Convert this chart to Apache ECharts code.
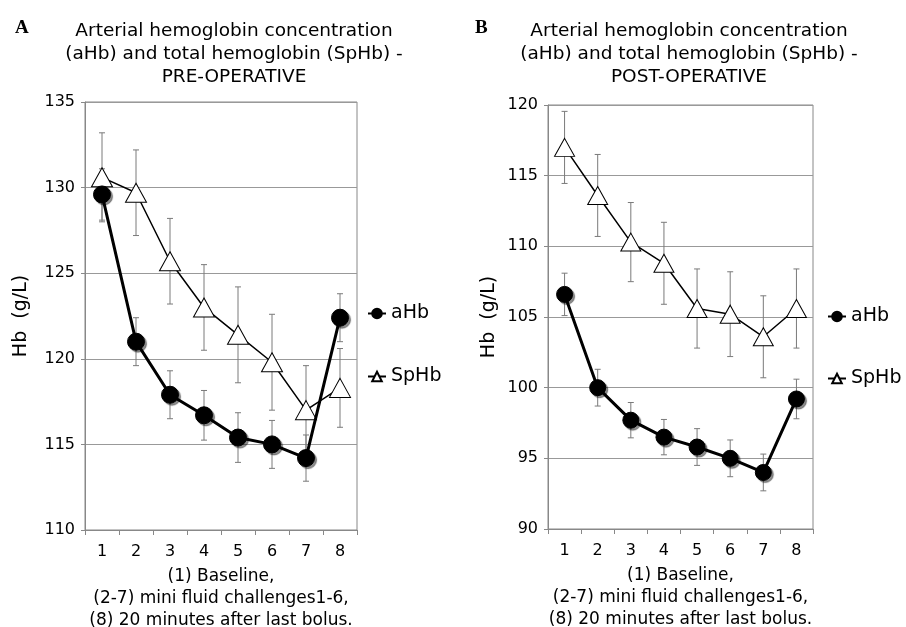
<!DOCTYPE html>
<html>
<head>
<meta charset="utf-8">
<script src="https://cdn.jsdelivr.net/npm/echarts@6/dist/echarts.min.js"></script>
<style>html,body{margin:0;padding:0;background:#fff}#c{width:906px;height:627px}</style>
</head>
<body>
<div id="c"></div>
<script>
const categories = ['1','2','3','4','5','6','7','8'];
const preAHb = [129.6,121.0,117.9,116.7,115.4,115.0,114.2,122.4];
const preAHbErr = [1.5,1.4,1.4,1.45,1.45,1.4,1.35,1.4];
const preSpHb = [130.6,129.7,125.7,123.0,121.4,119.8,117.0,118.3];
const preSpHbErr = [2.6,2.5,2.5,2.5,2.8,2.8,2.6,2.3];
const postAHb = [106.6,100.0,97.7,96.5,95.8,95.0,94.0,99.2];
const postAHbErr = [1.5,1.3,1.25,1.25,1.3,1.3,1.3,1.4];
const postSpHb = [117.0,113.6,110.3,108.8,105.6,105.2,103.6,105.6];
const postSpHbErr = [2.55,2.9,2.8,2.9,2.8,3.0,2.9,2.8];
const titleA = 'Arterial hemoglobin concentration\n(aHb) and total hemoglobin (SpHb) -\nPRE-OPERATIVE';
const titleB = 'Arterial hemoglobin concentration\n(aHb) and total hemoglobin (SpHb) -\nPOST-OPERATIVE';
const xName = '(1) Baseline,\n(2-7) mini fluid challenges1-6,\n(8) 20 minutes after last bolus.';
const yName = 'Hb  (g/L)';

const FONT = '"DejaVu Sans", "Liberation Sans", Arial, sans-serif';
const chart = echarts.init(document.getElementById('c'), null, {renderer: 'canvas'});

function errData(vals, errs) {
  return vals.map((v, i) => [i, v - errs[i], v + errs[i]]);
}
function errSeries(vals, errs, idx) {
  return {
    type: 'custom', xAxisIndex: idx, yAxisIndex: idx, z: 1, silent: true,
    data: errData(vals, errs),
    renderItem: function (params, api) {
      const x = api.value(0);
      const lo = api.coord([x, api.value(1)]);
      const hi = api.coord([x, api.value(2)]);
      const w = 3;
      const st = {stroke: '#7a7a7a', lineWidth: 1};
      return {type: 'group', children: [
        {type: 'line', shape: {x1: lo[0], y1: lo[1], x2: hi[0], y2: hi[1]}, style: st},
        {type: 'line', shape: {x1: lo[0]-w, y1: lo[1], x2: lo[0]+w, y2: lo[1]}, style: st},
        {type: 'line', shape: {x1: hi[0]-w, y1: hi[1], x2: hi[0]+w, y2: hi[1]}, style: st}
      ]};
    }
  };
}
function aSeries(vals, idx, size) {
  return {
    name: 'aHb', type: 'line', xAxisIndex: idx, yAxisIndex: idx, data: vals, z: 4,
    symbol: 'circle', symbolSize: size,
    lineStyle: {color: '#000', width: 3},
    itemStyle: {color: '#000', borderColor: '#000', borderWidth: 1,
      shadowColor: 'rgba(0,0,0,0.45)', shadowOffsetX: 2, shadowOffsetY: 2, shadowBlur: 1},
    emphasis: {disabled: true}
  };
}
function sSeries(vals, idx, size) {
  return {
    name: 'SpHb', type: 'line', xAxisIndex: idx, yAxisIndex: idx, data: vals, z: 3,
    symbol: 'triangle', symbolSize: size,
    lineStyle: {color: '#000', width: 1.5},
    itemStyle: {color: '#fff', borderColor: '#000', borderWidth: 1},
    emphasis: {disabled: true}
  };
}
function xAxis(idx) {
  return {
    type: 'category', gridIndex: idx, data: categories, boundaryGap: true,
    axisLine: {lineStyle: {color: '#888'}},
    axisTick: {show: true, length: 5, lineStyle: {color: '#888'}},
    axisLabel: {color: '#000', fontSize: 16, fontFamily: FONT, margin: 14},
    name: xName, nameLocation: 'middle', nameGap: 36,
    nameTextStyle: {color: '#000', fontSize: 17, fontFamily: FONT, lineHeight: 22, verticalAlign: 'top'}
  };
}
function yAxis(idx, min, max, gap) {
  return {
    type: 'value', gridIndex: idx, min: min, max: max, interval: 5,
    axisLine: {show: true, lineStyle: {color: '#888'}},
    axisTick: {show: true, length: 4, lineStyle: {color: '#888'}},
    splitLine: {show: true, lineStyle: {color: '#999', width: 1}},
    axisLabel: {color: '#000', fontSize: 16, fontFamily: FONT, margin: 10},
    name: yName, nameLocation: 'middle', nameGap: gap, nameRotate: 90,
    nameTextStyle: {color: '#000', fontSize: 19, fontFamily: FONT}
  };
}
const legendText = {color: '#000', fontSize: 19, fontFamily: FONT};

chart.setOption({
  animation: false,
  backgroundColor: '#fff',
  title: [
    {text: 'A', left: 10, top: 14, textStyle: {fontFamily: '"Liberation Serif", serif', fontWeight: 'bold', fontSize: 19, color: '#000'}},
    {text: 'B', left: 470, top: 14, textStyle: {fontFamily: '"Liberation Serif", serif', fontWeight: 'bold', fontSize: 19, color: '#000'}},
    {text: titleA, left: 229, top: 15, textAlign: 'center', textStyle: {fontFamily: FONT, fontWeight: 'normal', fontSize: 18.5, lineHeight: 23, color: '#000'}},
    {text: titleB, left: 684, top: 15, textAlign: 'center', textStyle: {fontFamily: FONT, fontWeight: 'normal', fontSize: 18.5, lineHeight: 23, color: '#000'}}
  ],
  legend: [
    {data: [{name: 'aHb'}, {name: 'SpHb'}], left: 362, top: 299, orient: 'vertical', itemGap: 44,
      itemWidth: 18, itemHeight: 12, textStyle: legendText, selectedMode: false},
    {data: [{name: 'aHb'}, {name: 'SpHb'}], left: 822, top: 302, orient: 'vertical', itemGap: 43,
      itemWidth: 18, itemHeight: 12, textStyle: legendText, selectedMode: false}
  ],
  grid: [
    {left: 85, top: 102, width: 272, height: 428, show: true, borderColor: '#888', borderWidth: 1, outerBoundsMode: 'none', containLabel: false},
    {left: 548, top: 105, width: 265, height: 424, show: true, borderColor: '#888', borderWidth: 1, outerBoundsMode: 'none', containLabel: false}
  ],
  xAxis: [xAxis(0), xAxis(1)],
  yAxis: [yAxis(0, 110, 135, 54), yAxis(1, 90, 120, 49)],
  series: [
    errSeries(preSpHb, preSpHbErr, 0),
    errSeries(preAHb, preAHbErr, 0),
    sSeries(preSpHb, 0, [21, 19]),
    aSeries(preAHb, 0, 17),
    errSeries(postSpHb, postSpHbErr, 1),
    errSeries(postAHb, postAHbErr, 1),
    sSeries(postSpHb, 1, [20, 18]),
    aSeries(postAHb, 1, 16)
  ]
});
</script>
</body>
</html>
